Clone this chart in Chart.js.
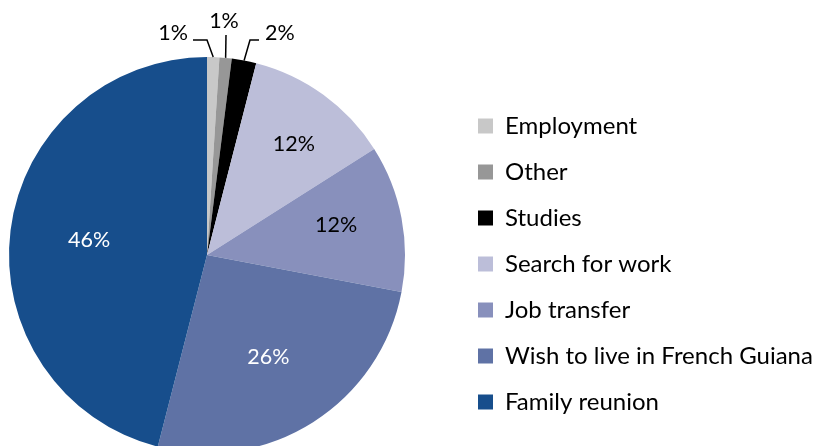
<!DOCTYPE html>
<html>
<head>
<meta charset="utf-8">
<script src="https://cdn.jsdelivr.net/npm/chart.js@4.4.1/dist/chart.umd.min.js"></script>
<style>
  html, body { margin: 0; padding: 0; background: #fff; overflow: hidden; }
  body { width: 818px; height: 446px; position: relative; }
  #wrap { position: absolute; left: -42px; top: 0; width: 870px; height: 453px; }
</style>
</head>
<body>
<div id="wrap"><canvas id="pie-chart" width="870" height="453"></canvas></div>
<script>
const reasons = ["Employment", "Other", "Studies", "Search for work", "Job transfer", "Wish to live in French Guiana", "Family reunion"]
const shares = [1, 1, 2, 12, 12, 26, 46]
const sliceColors = ["#C8C8C8", "#979797", "#000000", "#BCBED9", "#8890BC", "#5F72A5", "#174E8C"]

// inside labels: radius fraction + small angle nudge (deg), text colour
const insideLabels = {
  3: { f: 0.71, nudge: 2.2, color: "#000" },
  4: { f: 0.67, nudge: -2.3, color: "#000" },
  5: { f: 0.60, nudge: 1.3, color: "#fff" },
  6: { f: 0.60, nudge: 0, color: "#fff" }
}
// outside labels with leader lines (offsets from pie centre)
const callouts = {
  0: { line: [[0, -215], [-14, -215]], text: [-19, -222], align: "right" },
  1: { line: [[19, -220]], text: [17, -234], align: "center" },
  2: { line: [[43, -215], [52, -215]], text: [58, -222], align: "left" }
}

Chart.defaults.font.family = "Lato, 'Open Sans', sans-serif"
Chart.defaults.color = "#000"

const pieLabels = {
  id: "pieLabels",
  afterDatasetsDraw(chart) {
    const ctx = chart.ctx
    const meta = chart.getDatasetMeta(0)
    const total = shares.reduce((a, b) => a + b, 0)
    ctx.save()
    ctx.font = "21.5px Lato, 'Open Sans', sans-serif"
    ctx.textBaseline = "middle"
    meta.data.forEach((arc, i) => {
      const txt = Math.round(shares[i] / total * 100) + "%"
      const mid = (arc.startAngle + arc.endAngle) / 2
      const r = arc.outerRadius
      if (insideLabels[i]) {
        const s = insideLabels[i]
        const a = mid + s.nudge * Math.PI / 180
        ctx.fillStyle = s.color
        ctx.textAlign = "center"
        ctx.fillText(txt, arc.x + Math.cos(a) * r * s.f, arc.y + Math.sin(a) * r * s.f)
      } else if (callouts[i]) {
        const c = callouts[i]
        ctx.strokeStyle = "#000"
        ctx.lineWidth = 1.5
        ctx.beginPath()
        ctx.moveTo(arc.x + Math.cos(mid) * r, arc.y + Math.sin(mid) * r)
        c.line.forEach(p => ctx.lineTo(arc.x + p[0], arc.y + p[1]))
        ctx.stroke()
        ctx.fillStyle = "#000"
        ctx.textAlign = c.align
        ctx.fillText(txt, arc.x + c.text[0], arc.y + c.text[1])
      }
    })
    ctx.restore()
  }
}

// keep the legend at a fixed width so the pie lands where it should
const legendWidth = {
  id: "legendWidth",
  afterInit(chart) {
    const lg = chart.legend
    const fit = lg.fit
    lg.fit = function () {
      fit.call(this)
      this.width = 372
    }
  }
}

new Chart(document.getElementById("pie-chart"), {
  type: "pie",
  data: {
    labels: reasons,
    datasets: [{
      data: shares,
      backgroundColor: sliceColors,
      borderWidth: 0
    }]
  },
  options: {
    responsive: false,
    animation: false,
    devicePixelRatio: 1,
    layout: { padding: { left: 0, top: 57, right: 0, bottom: 0 } },
    plugins: {
      tooltip: { enabled: false },
      legend: {
        position: "right",
        align: "center",
        title: { display: true, text: "", font: { size: 10 }, padding: 3 },
        labels: {
          boxWidth: 15,
          boxHeight: 15,
          padding: 22,
          color: "#000",
          font: { size: 24 }
        }
      }
    }
  },
  plugins: [pieLabels, legendWidth]
})
</script>
</body>
</html>
